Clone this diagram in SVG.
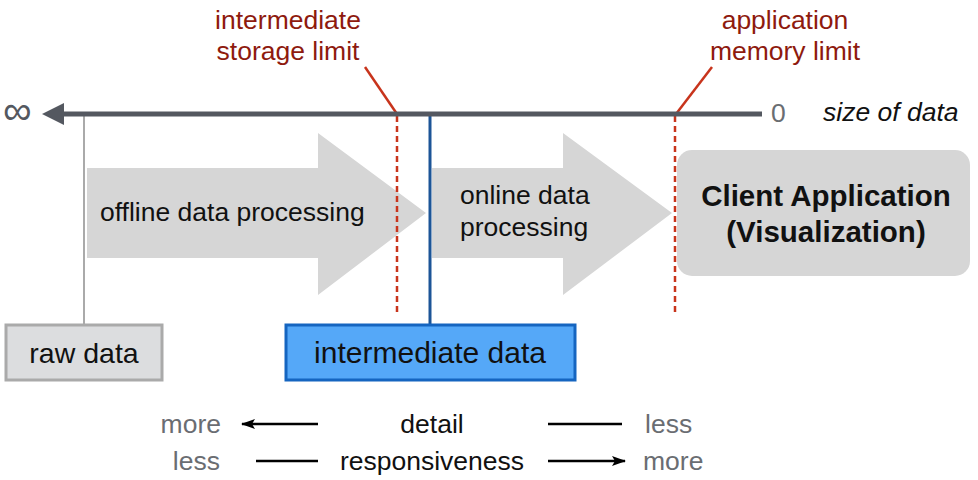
<svg xmlns="http://www.w3.org/2000/svg" width="978" height="480" viewBox="0 0 978 480">
<style>
text{font-family:"Liberation Sans",Arial,sans-serif}
.red{fill:#8e1a0e;font-size:26.5px;text-anchor:middle}
.gray{fill:#6a6d72;font-size:26.5px}
.blk{fill:#111;font-size:26.5px}
.big{fill:#d6d6d6}
.dash{stroke:#c8341c;stroke-width:2.5;stroke-dasharray:6,4;fill:none}
.lead{stroke:#c8341c;stroke-width:2.5;fill:none}
</style>
<defs>
<marker id="ah" markerWidth="14" markerHeight="10" refX="13" refY="5" orient="auto" markerUnits="userSpaceOnUse">
<path d="M0,0 L14,5 L0,10 L3,5 Z" fill="#000"/>
</marker>
</defs>
<g id="arrow-offline">
<polygon class="big" points="87,168 318,168 318,133 426,213 318,295 318,258 87,258"/>
<text class="blk" x="100" y="221">offline data processing</text>
</g>
<g id="arrow-online">
<polygon class="big" points="432,168 563,168 563,133 672,213 563,295 563,258 432,258"/>
<text class="blk" x="460" y="204">online data</text>
<text class="blk" x="460" y="236">processing</text>
</g>
<g id="client">
<rect x="677" y="150" width="293" height="126" rx="15" fill="#d6d6d6"/>
<text x="826" y="206" text-anchor="middle" font-size="29.5" font-weight="bold" fill="#111">Client Application</text>
<text x="826" y="242" text-anchor="middle" font-size="29.5" font-weight="bold" fill="#111">(Visualization)</text>
</g>
<g id="connectors">
<line x1="84" y1="114" x2="84" y2="325" stroke="#aaaaaa" stroke-width="2"/>
<line x1="430" y1="114" x2="430" y2="325" stroke="#1c5597" stroke-width="3"/>
<line class="dash" x1="397" y1="116" x2="397" y2="314"/>
<line class="dash" x1="675" y1="116" x2="675" y2="314"/>
<line class="lead" x1="365" y1="67" x2="397" y2="114"/>
<line class="lead" x1="712" y1="67" x2="676" y2="114"/>
<line x1="60" y1="114" x2="762" y2="114" stroke="#545860" stroke-width="5"/>
<polygon points="42,114 64,103 64,125" fill="#545860"/>
<line x1="318" y1="424" x2="242" y2="424" stroke="#000" stroke-width="2.5" marker-end="url(#ah)"/>
<line x1="548" y1="424" x2="622" y2="424" stroke="#000" stroke-width="2.5"/>
<line x1="256" y1="461" x2="318" y2="461" stroke="#000" stroke-width="2.5"/>
<line x1="548" y1="461" x2="625" y2="461" stroke="#000" stroke-width="2.5" marker-end="url(#ah)"/>
</g>
<g id="axis-labels">
<text x="3" y="124" font-size="40" fill="#545860">∞</text>
<text x="771" y="122" font-size="26.5" fill="#6a6d72">0</text>
<text x="823" y="121" font-size="26.5" font-style="italic" fill="#111">size of data</text>
</g>
<g id="label-storage">
<text class="red" x="288" y="29">intermediate</text>
<text class="red" x="288" y="60">storage limit</text>
</g>
<g id="label-memory">
<text class="red" x="785" y="29">application</text>
<text class="red" x="785" y="60">memory limit</text>
</g>
<g id="raw-data">
<rect x="6" y="325" width="156" height="55" fill="#dcdddf" stroke="#aaaaaa" stroke-width="3"/>
<text x="84" y="363" text-anchor="middle" font-size="28.5" fill="#111">raw data</text>
</g>
<g id="intermediate-data">
<rect x="286" y="325" width="289" height="55" fill="#55a8f8" stroke="#1565c0" stroke-width="3"/>
<text x="430" y="363" text-anchor="middle" font-size="30" fill="#111">intermediate data</text>
</g>
<g id="legend">
<text class="gray" x="221" y="433" text-anchor="end">more</text>
<text class="blk" x="432" y="433" text-anchor="middle">detail</text>
<text class="gray" x="645" y="433">less</text>
<text class="gray" x="220" y="470" text-anchor="end">less</text>
<text class="blk" x="432" y="470" text-anchor="middle">responsiveness</text>
<text class="gray" x="643" y="470">more</text>
</g>
</svg>
